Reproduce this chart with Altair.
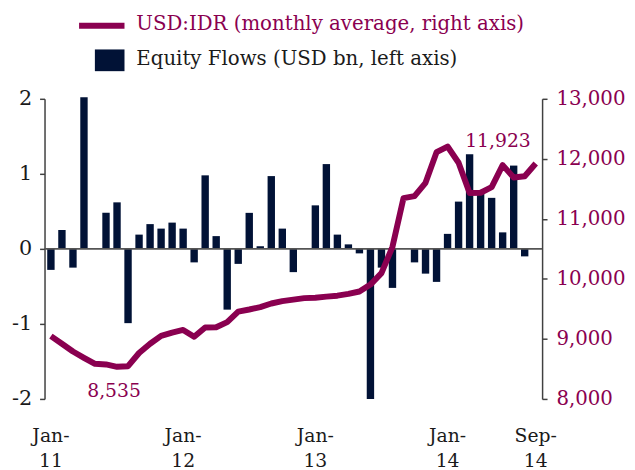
import altair as alt
import pandas as pd

months = [
    "Jan-11", "Feb-11", "Mar-11", "Apr-11", "May-11", "Jun-11", "Jul-11", "Aug-11", "Sep-11", "Oct-11", "Nov-11", "Dec-11",
    "Jan-12", "Feb-12", "Mar-12", "Apr-12", "May-12", "Jun-12", "Jul-12", "Aug-12", "Sep-12", "Oct-12", "Nov-12", "Dec-12",
    "Jan-13", "Feb-13", "Mar-13", "Apr-13", "May-13", "Jun-13", "Jul-13", "Aug-13", "Sep-13", "Oct-13", "Nov-13", "Dec-13",
    "Jan-14", "Feb-14", "Mar-14", "Apr-14", "May-14", "Jun-14", "Jul-14", "Aug-14", "Sep-14",
]
equity_flows = [
    -0.28, 0.25, -0.25, 2.02, 0.01, 0.48, 0.62, -0.99, 0.19, 0.33, 0.27, 0.35,
    0.27, -0.18, 0.98, 0.17, -0.81, -0.20, 0.48, 0.035, 0.97, 0.27, -0.31, 0.0,
    0.58, 1.13, 0.19, 0.06, -0.06, -2.0, -0.25, -0.52, 0.01, -0.18, -0.33, -0.44,
    0.20, 0.63, 1.26, 0.77, 0.68, 0.22, 1.11, -0.10, None,
]
usd_idr = [
    9046, 8920, 8790, 8685, 8585, 8575, 8535, 8545, 8765, 8920, 9050, 9105,
    9150, 9035, 9190, 9195, 9280, 9455, 9490, 9530, 9590, 9630, 9655, 9680,
    9685, 9705, 9720, 9750, 9790, 9905, 10095, 10535, 11345, 11380, 11600, 12110,
    12205, 11935, 11430, 11435, 11530, 11895, 11690, 11710, 11923,
]
x_tick_labels = ["Jan-11", "Jan-12", "Jan-13", "Jan-14", "Sep-14"]
left_ticks = [-2, -1, 0, 1, 2]
right_ticks = [8000, 9000, 10000, 11000, 12000, 13000]
legend_line_text = "USD:IDR (monthly average, right axis)"
legend_bar_text = "Equity Flows (USD bn, left axis)"

FONT = "DejaVu Serif"
MAROON = "#8a0050"
NAVY = "#011236"

bars_df = pd.DataFrame({"month": months, "flow": equity_flows}).dropna()
line_df = pd.DataFrame({"month": months, "idr": usd_idr})

min_i = usd_idr.index(min(usd_idr))
ann_df = pd.DataFrame({
    "month": [months[min_i], months[-1]],
    "idr": [usd_idr[min_i], usd_idr[-1]],
    "label": [f"{usd_idr[min_i]:,}", f"{usd_idr[-1]:,}"],
})

x_enc = alt.X(
    "month:N",
    sort=months,
    scale=alt.Scale(paddingInner=0.33, paddingOuter=0.245),
    axis=alt.Axis(
        values=x_tick_labels,
        labelExpr="[slice(datum.label, 0, 4), slice(datum.label, 4)]",
        labelAngle=0,
        labelFont=FONT,
        labelFontSize=19,
        labelColor="#1a1a1a",
        labelLineHeight=25,
        labelPadding=28,
        labelBaseline="top",
        ticks=False,
        domain=False,
        title=None,
    ),
)

bars = alt.Chart(bars_df).mark_bar(color=NAVY).encode(
    x=x_enc,
    y=alt.Y(
        "flow:Q",
        scale=alt.Scale(domain=[-2, 2], nice=False, zero=False),
        axis=alt.Axis(
            orient="left",
            values=left_ticks,
            labelExpr="datum.value + ''",
            labelFont=FONT,
            labelFontSize=21,
            labelColor="#1a1a1a",
            labelPadding=8,
            tickSize=5,
            tickColor="#404040",
            tickWidth=1.5,
            domainColor="#404040",
            domainWidth=1.5,
            grid=False,
            title=None,
        ),
    ),
)

zero_rule = alt.Chart(pd.DataFrame({"z": [0]})).mark_rule(color="#555555", strokeWidth=2).encode(
    y=alt.Y("z:Q")
)

left_group = alt.layer(bars, zero_rule)

line = alt.Chart(line_df).mark_line(color=MAROON, strokeWidth=6, strokeJoin="round").encode(
    x=alt.X("month:N", sort=months),
    y=alt.Y(
        "idr:Q",
        scale=alt.Scale(domain=[8000, 13000], nice=False, zero=False),
        axis=alt.Axis(
            orient="right",
            values=right_ticks,
            labelExpr="format(datum.value, ',.0f')",
            labelFont=FONT,
            labelFontSize=20,
            labelColor=MAROON,
            labelPadding=9,
            tickSize=5,
            tickColor="#404040",
            tickWidth=1.5,
            domainColor="#404040",
            domainWidth=1.5,
            grid=False,
            title=None,
        ),
    ),
)

ann_min = alt.Chart(ann_df.iloc[[0]]).mark_text(
    font=FONT, fontSize=19, color=MAROON, align="center", baseline="middle", dy=25, dx=-3
).encode(x=alt.X("month:N", sort=months), y=alt.Y("idr:Q"), text="label:N")

ann_last = alt.Chart(ann_df.iloc[[1]]).mark_text(
    font=FONT, fontSize=19, color=MAROON, align="right", baseline="middle", dy=-23, dx=-5
).encode(x=alt.X("month:N", sort=months), y=alt.Y("idr:Q"), text="label:N")

right_group = alt.layer(line, ann_min, ann_last)

# legend (drawn in the top padding area)
leg_df = pd.DataFrame({"a": [0]})
leg_line = alt.Chart(leg_df).mark_rule(color=MAROON, strokeWidth=6).encode(
    x=alt.value(35), x2=alt.value(81), y=alt.value(-74)
)
leg_line_text = alt.Chart(leg_df).mark_text(
    font=FONT, fontSize=20, color=MAROON, align="left", baseline="middle"
).encode(x=alt.value(93), y=alt.value(-76), text=alt.value(legend_line_text))
leg_sq = alt.Chart(leg_df).mark_rect(color=NAVY).encode(
    x=alt.value(51), x2=alt.value(81), y=alt.value(-50), y2=alt.value(-28)
)
leg_bar_text = alt.Chart(leg_df).mark_text(
    font=FONT, fontSize=20, color="#1a1a1a", align="left", baseline="middle"
).encode(x=alt.value(93), y=alt.value(-40), text=alt.value(legend_bar_text))

legend = alt.layer(leg_line, leg_line_text, leg_sq, leg_bar_text)

chart = alt.layer(left_group, right_group, legend).resolve_scale(y="independent").properties(
    width=504,
    height=304,
    padding={"left": 37, "top": 89, "right": 86, "bottom": 69},
    autosize="none",
).configure_view(stroke=None)

chart.save("out.html", embed_options={"renderer": "svg", "actions": False})
